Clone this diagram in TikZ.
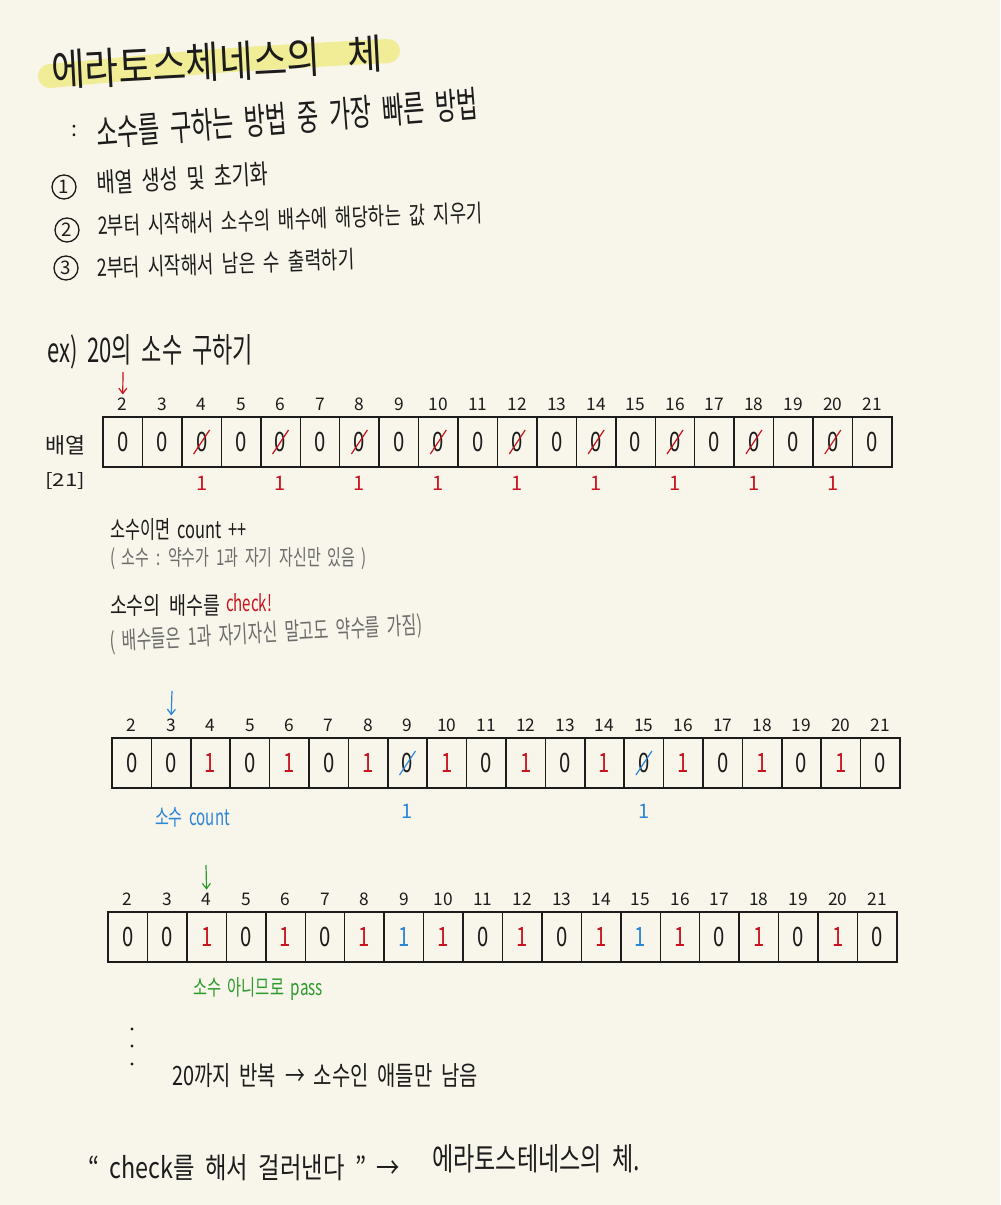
\documentclass[tikz,border=0pt]{standalone}
\usepackage{fontspec}
\setmainfont{Noto Sans CJK KR}[WordSpace=2]
\usetikzlibrary{arrows.meta}
\newlength\pxu \setlength\pxu{0.75pt}
\newcommand\fitbox[3]{\resizebox{#1\pxu}{#2\pxu}{#3}}
\newcommand\fs[1]{\fontsize{#1}{#1}\selectfont}
\newcommand\tall[1]{\scalebox{0.95}[1.25]{#1}}
\definecolor{paper}{HTML}{F8F5EA}
\definecolor{ink}{HTML}{1C1C1C}
\definecolor{redink}{HTML}{C8141E}
\definecolor{blueink}{HTML}{2A86D8}
\definecolor{greenink}{HTML}{2C9A2C}
\definecolor{grayink}{HTML}{6C6C6C}
\definecolor{hlyellow}{HTML}{F1ED96}
\tikzset{
  txt/.style={anchor=base west, inner sep=0pt, outer sep=0pt, text=ink},
  cell/.style={draw=ink, line width=1.1pt, minimum height=37.5pt, inner sep=0pt, font=\fs{16}, text=ink},
  idx/.style={anchor=base, inner sep=0pt, font=\fs{13}, text=ink},
  onemark/.style={anchor=base, inner sep=0pt, font=\fs{15}},
  v0/.style={node contents=\tall{0}},
  v1/.style={node contents=\tall{1}, text=redink},
  v2/.style={node contents=\tall{1}, text=blueink},
  v3/.style={node contents=\tall{0}},
  v4/.style={node contents=\tall{0}},
  circnum/.style={draw=ink, circle, line width=1pt, minimum size=18pt, inner sep=0pt, font=\fs{14}, text=ink},
  handarrow/.style={-{Straight Barb[length=4pt,width=6pt]}, line width=0.9pt, shorten >=2pt},
  slash/.style={line width=0.9pt},
}
\newcommand\sievearray[5]{%
  \foreach \v [count=\i from 2] in {#5}{%
    \node (#1\i) at ({#2+(\i-1.5)*#4},{#3+25}) [cell, minimum width={#4*0.75pt}, v\v];
    \node[idx] (#1i\i) at ({#2+(\i-1.5)*#4},{#3-7}) {\i};
  }}
\begin{document}
\begin{tikzpicture}[x=0.75pt,y=-0.75pt]
\fill[paper] (0,0) rectangle (1000,1205);
\useasboundingbox (0,0) rectangle (1000,1205);

% title with highlight
\coordinate (h1) at (50,76);
\coordinate (h2) at (388,51);
\draw[hlyellow, line width=18pt, line cap=round] (h1) .. controls (220,60) .. (h2);
\node[txt, rotate=3] (title) at (52,87) {\fitbox{270}{36}{\fs{24}에라토스체네스의}};
\node[txt, rotate=3] (title2) at (348,71) {\fitbox{35}{34}{\fs{24}체}};

\node[txt] (colon) at (71,137) {\fs{16}:};
\node[txt, rotate=4.5] (sub) at (97,147) {\fitbox{383}{30}{\fs{18}소수를 구하는 방법 중 가장 빠른 방법}};

% steps
\node[circnum] (n1) at (64,187) {1};
\node[txt, rotate=3] (t1) at (97,193) {\fitbox{172}{22}{\fs{14}배열 생성 및 초기화}};
\node[circnum] (n2) at (67,230) {2};
\node[txt, rotate=2] (t2) at (98,235) {\fitbox{385}{20}{\fs{14}2부터 시작해서 소수의 배수에 해당하는 값 지우기}};
\node[circnum] (n3) at (66,268) {3};
\node[txt, rotate=2] (t3) at (97,277) {\fitbox{258}{20}{\fs{14}2부터 시작해서 남은 수 출력하기}};

% example
\node[txt] (ex) at (47,362) {\fitbox{206}{28}{\fs{18}ex) 20의 소수 구하기}};

% array 1
\sievearray{A}{103}{417}{39.45}{0,0,3,0,3,0,3,0,3,0,3,0,3,0,3,0,3,0,3,0}
\foreach \i in {4,6,...,20}
  \draw[redink, slash] ([shift={(-6pt,-9pt)}]A\i.center) -- ([shift={(6pt,9pt)}]A\i.center);
\coordinate (markA) at (0,490);
\foreach \i in {4,6,...,20}
  \node[onemark, text=redink] (Am\i) at (A\i |- markA) {1};
\coordinate (ra) at (123,372);
\draw[redink, handarrow] (ra) -- (Ai2.north);
\node[txt] (lab1) at (45,453) {\fitbox{40}{18}{\fs{14}배열}};
\node[txt] (lab2) at (45,486) {\fitbox{40}{14}{\fs{14}[21]}};

% notes
\node[txt] (note1) at (110,538) {\fitbox{137}{20}{\fs{14}소수이면 count ++}};
\node[txt, text=grayink] (note2) at (110,565) {\fitbox{257}{18}{\fs{13}( 소수 : 약수가 1과 자기 자신만 있음 )}};
\node[txt] (note3) at (110,614) {\fitbox{110}{20}{\fs{14}소수의 배수를}};
\node[txt, text=redink] (note3b) at (226,611) {\fitbox{46}{18}{\fs{14}check!}};
\node[txt, text=grayink, rotate=3] (note4) at (110,650) {\fitbox{313}{20}{\fs{13}( 배수들은 1과 자기자신 말고도 약수를 가짐)}};

% array 2
\sievearray{B}{112}{738}{39.4}{0,0,1,0,1,0,1,4,1,0,1,0,1,4,1,0,1,0,1,0}
\foreach \i in {9,15}
  \draw[blueink, slash] ([shift={(-6pt,-9pt)}]B\i.center) -- ([shift={(6pt,9pt)}]B\i.center);
\coordinate (markB) at (0,818);
\foreach \i in {9,15}
  \node[onemark, text=blueink] (Bm\i) at (B\i |- markB) {1};
\coordinate (ba) at (172,691);
\draw[blueink, handarrow] (ba) -- (Bi3.north);
\node[txt, text=blueink] (note5) at (155,825) {\fitbox{75}{18}{\fs{13}소수 count}};

% array 3
\sievearray{C}{108}{912}{39.45}{0,0,1,0,1,0,1,2,1,0,1,0,1,2,1,0,1,0,1,0}
\coordinate (ga) at (206,865);
\draw[greenink, handarrow] (ga) -- (Ci4.north);
\node[txt, text=greenink] (note6) at (193,995) {\fitbox{130}{18}{\fs{13}소수 아니므로 pass}};

% ellipsis and conclusion
\foreach \y in {1029,1046,1064} \fill[ink] (132,\y) circle (1.6);
\node[txt] (note7) at (172,1085) {\fitbox{306}{22}{\fs{15}20까지 반복 → 소수인 애들만 남음}};
\node[txt] (note8) at (88,1178) {\fitbox{312}{24}{\fs{15}“ check를 해서 걸러낸다 ” →}};
\node[txt] (note9) at (432,1170) {\fitbox{208}{26}{\fs{16}에라토스테네스의 체.}};
\end{tikzpicture}
\end{document}
